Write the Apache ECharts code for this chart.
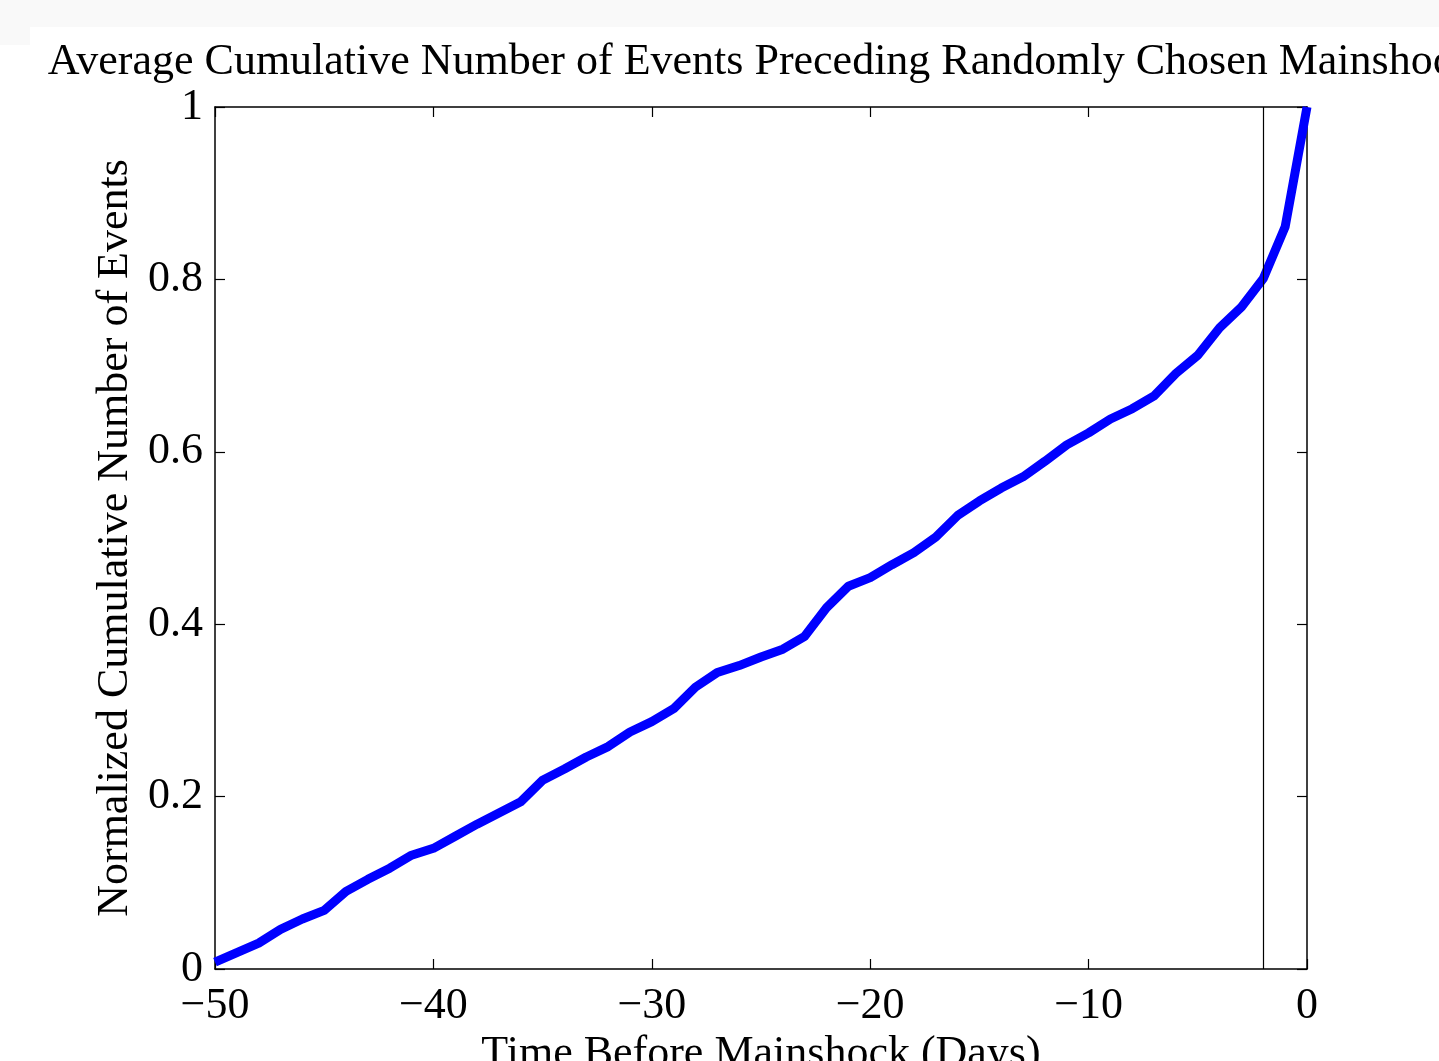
<!DOCTYPE html>
<html>
<head>
<meta charset="utf-8">
<script src="https://cdn.jsdelivr.net/npm/echarts@6/dist/echarts.min.js"></script>
<style>
html,body{margin:0;padding:0;background:#fff;}
#c{width:1439px;height:1061px;}
</style>
</head>
<body>
<div id="c"></div>
<script>
var days = [-50,-49,-48,-47,-46,-45,-44,-43,-42,-41,-40,-39,-38,-37,-36,-35,-34,-33,-32,-31,-30,-29,-28,-27,-26,-25,-24,-23,-22,-21,-20,-19,-18,-17,-16,-15,-14,-13,-12,-11,-10,-9,-8,-7,-6,-5,-4,-3,-2,-1,0];
var cumulative = [0.008,0.019,0.030,0.046,0.058,0.068,0.090,0.104,0.117,0.132,0.140,0.154,0.168,0.181,0.194,0.219,0.232,0.246,0.258,0.275,0.287,0.302,0.327,0.344,0.352,0.362,0.371,0.386,0.419,0.444,0.454,0.469,0.483,0.501,0.526,0.543,0.558,0.571,0.589,0.608,0.622,0.638,0.650,0.665,0.691,0.712,0.744,0.768,0.801,0.861,1.0];
var markerDay = [-2];
var xTicks = [-50,-40,-30,-20,-10,0];
var yTicks = [0,0.2,0.4,0.6,0.8,1];
var titleText = 'Average Cumulative Number of Events Preceding Randomly Chosen Mainshock';
var xName = 'Time Before Mainshock (Days)';
var yName = 'Normalized Cumulative Number of Events';

var FONT = 'Liberation Serif';
var FS = 44;
var chart = echarts.init(document.getElementById('c'), null, {renderer:'canvas'});
function fmtX(v){ return v < 0 ? '\u2212' + Math.abs(v) : String(v); }
function fmtY(v){ return (Math.round(v*10)/10).toString(); }
var axisLine = {show:true, onZero:false, lineStyle:{color:'#000', width:1.5}};
var axisTick = {show:true, inside:true, length:10, lineStyle:{color:'#000', width:1.2}};
var data = days.map(function(d,i){ return [d, cumulative[i]]; });
chart.setOption({
  animation:false,
  backgroundColor:'#fff',
  graphic:[
    {type:'rect', shape:{x:0,y:0,width:1439,height:27}, style:{fill:'#f9f9f9'}, silent:true, z:-10},
    {type:'rect', shape:{x:0,y:27,width:30,height:18}, style:{fill:'#f9f9f9'}, silent:true, z:-10},
    {type:'text', x:761, y:40, style:{text:titleText, textAlign:'center', textVerticalAlign:'top', font:'44px "'+FONT+'"', fill:'#000'}, silent:true}
  ],
  grid:{left:215, top:107, width:1092, height:862, containLabel:false, outerBoundsMode:'none'},
  xAxis:[
    {type:'value', min:-50, max:0, interval:10, position:'bottom',
     axisLine:axisLine, axisTick:axisTick, splitLine:{show:false},
     axisLabel:{formatter:fmtX, fontFamily:FONT, fontSize:FS, color:'#000', margin:15},
     name:xName, nameLocation:'middle', nameGap:48,
     nameTextStyle:{fontFamily:FONT, fontSize:FS, color:'#000', verticalAlign:'top'}},
    {type:'value', min:-50, max:0, interval:10, position:'top',
     axisLine:axisLine, axisTick:axisTick, splitLine:{show:false}, axisLabel:{show:false}}
  ],
  yAxis:[
    {type:'value', min:0, max:1, interval:0.2, position:'left',
     axisLine:axisLine, axisTick:axisTick, splitLine:{show:false},
     axisLabel:{formatter:fmtY, fontFamily:FONT, fontSize:FS, color:'#000', margin:12},
     name:yName, nameLocation:'middle', nameGap:75, nameRotate:90,
     nameTextStyle:{fontFamily:FONT, fontSize:FS, color:'#000'}},
    {type:'value', min:0, max:1, interval:0.2, position:'right',
     axisLine:axisLine, axisTick:axisTick, splitLine:{show:false}, axisLabel:{show:false}}
  ],
  series:[{
    type:'line', data:data, xAxisIndex:0, yAxisIndex:0,
    showSymbol:false, symbol:'none', smooth:false,
    lineStyle:{color:'#0000ff', width:9, join:'round', cap:'butt'},
    markLine:{silent:true, symbol:['none','none'], label:{show:false},
      lineStyle:{color:'#000', width:1.2, type:'solid'},
      data: markerDay.map(function(d){ return {xAxis:d}; })}
  }]
});
</script>
</body>
</html>
